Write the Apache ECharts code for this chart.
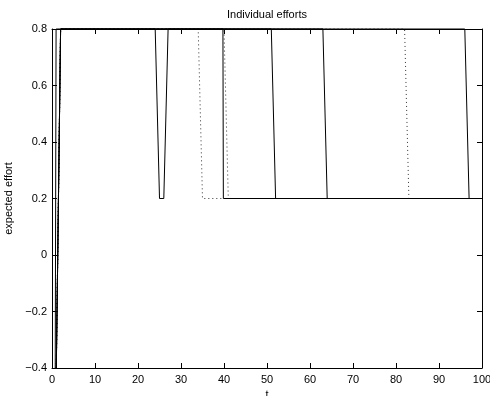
<!DOCTYPE html>
<html>
<head>
<meta charset="utf-8">
<script src="https://cdn.jsdelivr.net/npm/echarts/dist/echarts.min.js"></script>
<style>
html,body{margin:0;padding:0;background:#fff}
#chart{width:490px;height:396px}
</style>
</head>
<body>
<div id="chart"></div>
<script>
// Breakpoints (t, expected effort) of each agent's effort path
const tAgent1 = [1, 2, 24, 25, 26, 27, 51, 52, 100];
const eAgent1 = [-0.4, 0.8, 0.8, 0.2, 0.2, 0.8, 0.8, 0.2, 0.2];
const tAgent2 = [0.75, 0.95, 39.75, 39.85, 100];
const eAgent2 = [-0.4, 0.8, 0.8, 0.2, 0.2];
const tAgent3 = [1, 2, 63, 64, 100];
const eAgent3 = [-0.4, 0.8, 0.8, 0.2, 0.2];
const tAgent4 = [1, 2, 96, 97, 100];
const eAgent4 = [-0.4, 0.8, 0.8, 0.2, 0.2];
// dotted agents
const tAgent5 = [1, 2, 34, 35, 100];
const eAgent5 = [-0.4, 0.8, 0.8, 0.2, 0.2];
const tAgent6 = [1, 2, 40, 41, 100];
const eAgent6 = [-0.4, 0.8, 0.8, 0.2, 0.2];
const tAgent7 = [1, 2, 82, 83, 100];
const eAgent7 = [-0.4, 0.8, 0.8, 0.2, 0.2];

const xTicks = { min: 0, max: 100, interval: 10 };
const yTicks = { min: -0.4, max: 0.8, interval: 0.2 };

const FONT = "Helvetica, Arial, 'Liberation Sans', sans-serif";

function pairs(ts, es) { return ts.map((t, i) => [t, es[i]]); }

function yFmt(v) {
  const r = Math.round(v * 10) / 10;
  if (r === 0) return '0';
  return (r < 0 ? '\u2212' : '') + Math.abs(r).toFixed(1);
}

function lineSeries(ts, es, dotted) {
  return {
    type: 'line',
    data: pairs(ts, es),
    showSymbol: false,
    symbol: 'none',
    clip: false,
    z: dotted ? 2 : 3,
    lineStyle: dotted
      ? { color: '#333', width: 1, type: [1, 3] }
      : { color: '#000', width: 1 }
  };
}

function axisCommon() {
  return {
    axisLine: { show: true, onZero: false, lineStyle: { color: '#000', width: 1 } },
    axisTick: { show: true, inside: true, length: 5, lineStyle: { color: '#000', width: 1 } },
    splitLine: { show: false }
  };
}

const chart = echarts.init(document.getElementById('chart'), null, { renderer: 'canvas' });
chart.setOption({
  animation: false,
  backgroundColor: '#fff',
  grid: { left: 52, right: 8, top: 29, bottom: 28, containLabel: false, outerBoundsMode: 'none' },
  xAxis: [
    Object.assign({
      type: 'value', position: 'bottom',
      min: xTicks.min, max: xTicks.max, interval: xTicks.interval,
      name: 't', nameLocation: 'middle', nameGap: 17,
      nameTextStyle: { color: '#000', fontSize: 11, fontFamily: FONT },
      axisLabel: { color: '#000', fontSize: 11, fontFamily: FONT, margin: 6 }
    }, axisCommon()),
    Object.assign({
      type: 'value', position: 'top',
      min: xTicks.min, max: xTicks.max, interval: xTicks.interval,
      axisLabel: { show: false }
    }, axisCommon())
  ],
  yAxis: [
    Object.assign({
      type: 'value', position: 'left',
      min: yTicks.min, max: yTicks.max, interval: yTicks.interval,
      name: 'expected effort', nameLocation: 'middle', nameGap: 34,
      nameTextStyle: { color: '#000', fontSize: 11, fontFamily: FONT },
      axisLabel: { color: '#000', fontSize: 11, fontFamily: FONT, margin: 5, formatter: yFmt }
    }, axisCommon()),
    Object.assign({
      type: 'value', position: 'right',
      min: yTicks.min, max: yTicks.max, interval: yTicks.interval,
      axisLabel: { show: false }
    }, axisCommon())
  ],
  graphic: [{
    type: 'text', x: 267, y: 9,
    style: { text: 'Individual efforts', fill: '#000', font: '11px ' + FONT, textAlign: 'center', textVerticalAlign: 'top' }
  }],
  series: [
    lineSeries(tAgent5, eAgent5, true),
    lineSeries(tAgent6, eAgent6, true),
    lineSeries(tAgent7, eAgent7, true),
    lineSeries(tAgent1, eAgent1, false),
    lineSeries(tAgent2, eAgent2, false),
    lineSeries(tAgent3, eAgent3, false),
    lineSeries(tAgent4, eAgent4, false)
  ]
});
</script>
</body>
</html>
